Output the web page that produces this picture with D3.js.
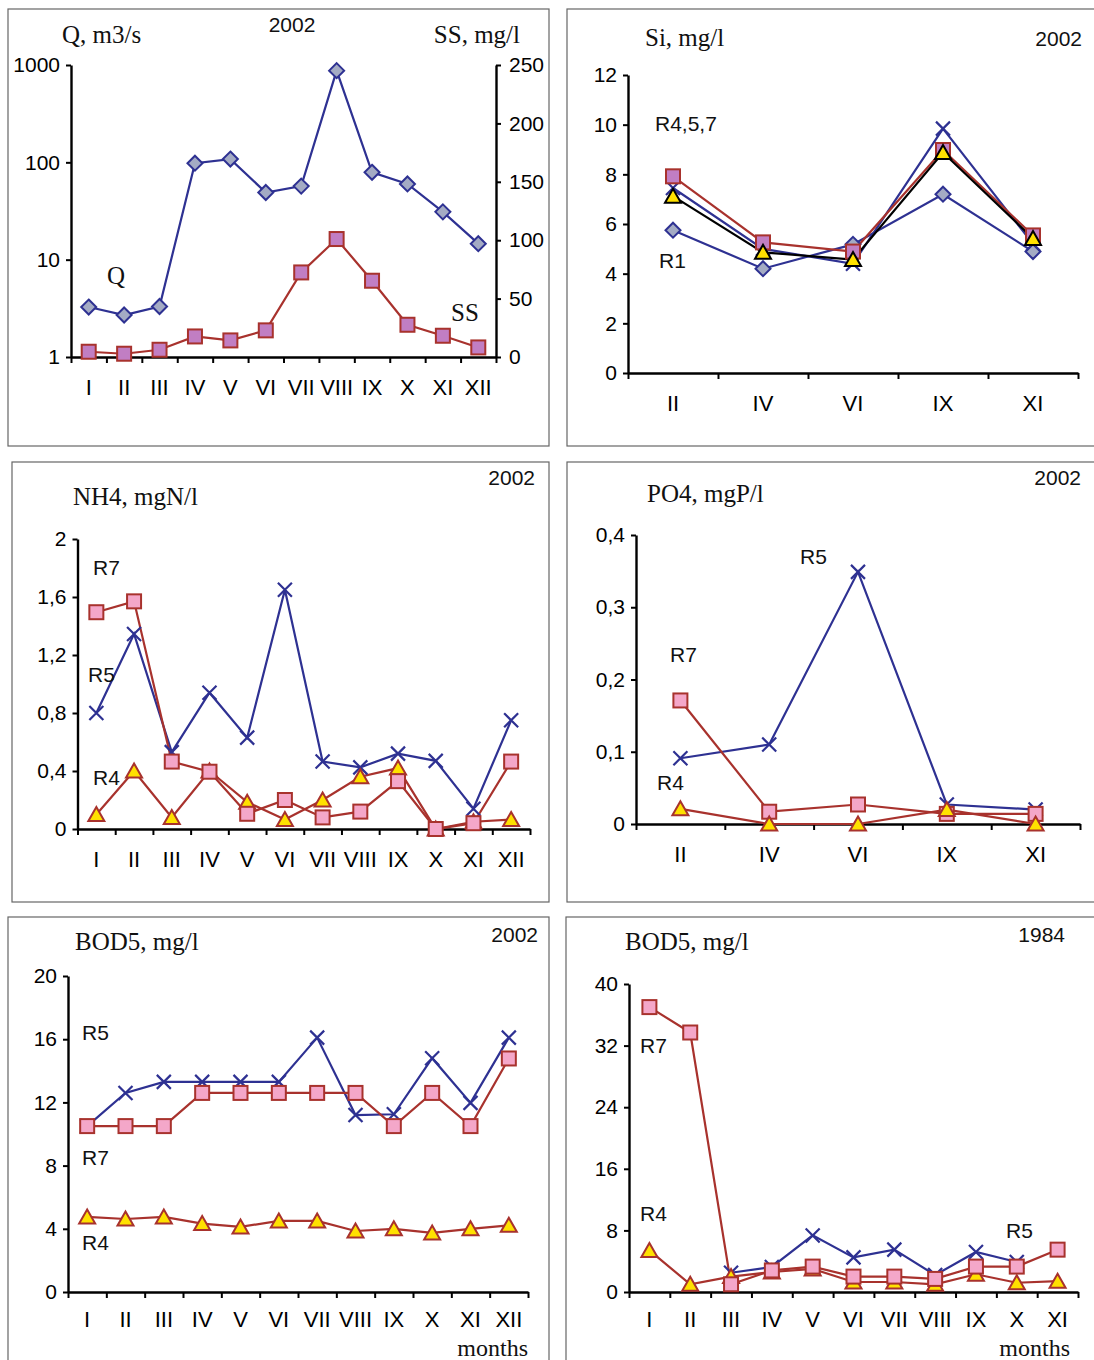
<!DOCTYPE html>
<html>
<head>
<meta charset="utf-8">
<script src="https://cdn.jsdelivr.net/npm/d3@7"></script>
<style>
body { margin: 0; background: #fff; }
text.sans { font-family: "Liberation Sans", Arial, sans-serif; }
text.serif { font-family: "Liberation Serif", "Times New Roman", serif; }
</style>
</head>
<body>
<div id="chart"></div>
<script>
// categories
var monthsAll = ["I", "II", "III", "IV", "V", "VI", "VII", "VIII", "IX", "X", "XI", "XII"];
var monthsSi = ["II", "IV", "VI", "IX", "XI"];
var months1984 = ["I", "II", "III", "IV", "V", "VI", "VII", "VIII", "IX", "X", "XI"];

// Q (log) and SS, 2002
var qFlow = [3.26, 2.7, 3.3, 98, 108, 49, 57, 875, 79, 60, 31, 14.6];
var ssConc = [4.5, 2.8, 6.2, 17.6, 14.2, 22.8, 72.4, 101, 65.3, 27.6, 18.2, 8.2];

// Si, 2002
var siR1 = [5.75, 4.2, 5.18, 7.2, 4.89];
var siR4 = [7.12, 4.86, 4.57, 8.88, 5.42];
var siR5 = [7.45, 5.0, 4.4, 9.84, 5.2];
var siR7 = [7.92, 5.26, 4.89, 8.98, 5.54];

// NH4, 2002
var nh4R4 = [0.1, 0.4, 0.08, 0.4, 0.185, 0.065, 0.2, 0.36, 0.42, 0, 0.05, 0.065];
var nh4R5 = [0.8, 1.345, 0.53, 0.94, 0.63, 1.65, 0.465, 0.425, 0.52, 0.47, 0.14, 0.75];
var nh4R7 = [1.495, 1.57, 0.465, 0.395, 0.105, 0.2, 0.08, 0.12, 0.33, 0, 0.04, 0.465];

// PO4, 2002
var po4R4 = [0.021, 0, 0, 0.02, 0];
var po4R5 = [0.091, 0.11, 0.349, 0.027, 0.02];
var po4R7 = [0.171, 0.017, 0.027, 0.014, 0.014];

// BOD5, 2002
var bod02R4 = [4.75, 4.62, 4.75, 4.33, 4.12, 4.5, 4.5, 3.86, 4.0, 3.74, 4.0, 4.22];
var bod02R5 = [10.5, 12.6, 13.3, 13.3, 13.3, 13.3, 16.1, 11.2, 11.25, 14.8, 11.97, 16.1];
var bod02R7 = [10.5, 10.5, 10.5, 12.6, 12.6, 12.6, 12.6, 12.6, 10.5, 12.6, 10.5, 14.78];

// BOD5, 1984
var bod84R4 = [5.4, 1.0, 2.0, 2.6, 3.0, 1.3, 1.3, 1.0, 2.3, 1.2, 1.4];
var bod84R5 = [null, null, 2.5, 3.25, 7.35, 4.5, 5.5, 2.2, 5.2, 3.9, null];
var bod84R7 = [37.0, 33.7, 1.0, 2.8, 3.3, 2.0, 2.0, 1.7, 3.3, 3.3, 5.5];

// tick values
var qTicks = [1, 10, 100, 1000];
var ssTicks = [0, 50, 100, 150, 200, 250];
var siTicks = [0, 2, 4, 6, 8, 10, 12];
var nh4Ticks = [0, 0.4, 0.8, 1.2, 1.6, 2];
var po4Ticks = [0, 0.1, 0.2, 0.3, 0.4];
var bod02Ticks = [0, 4, 8, 12, 16, 20];
var bod84Ticks = [0, 8, 16, 24, 32, 40];

var NAVY = "#2e3192", RED = "#a8322d", PINK = "#f4a7c9", PURPLE = "#c17ec3",
	YELLOW = "#ffe100", GREY = "#a4abc4";

var svg = d3.select("#chart").append("svg")
	.attr("width", 1094)
	.attr("height", 1360);

svg.append("rect").attr("width", 1094).attr("height", 1360).attr("fill", "#fff");

var comma = function(d) { return String(+d.toFixed(2)).replace(".", ","); };

function drawMarker(g, type, cx, cy, stroke) {
	var h = 7;
	if (type === "square" || type === "squareP") {
		g.append("rect").attr("x", cx - h).attr("y", cy - h).attr("width", 2 * h).attr("height", 2 * h)
			.attr("fill", type === "square" ? PINK : PURPLE).attr("stroke", RED).attr("stroke-width", 2);
	} else if (type === "triangle") {
		g.append("path").attr("d", "M" + cx + "," + (cy - 7.5) + "L" + (cx + 8) + "," + (cy + 6.5) + "L" + (cx - 8) + "," + (cy + 6.5) + "Z")
			.attr("fill", YELLOW).attr("stroke", stroke).attr("stroke-width", 2);
	} else if (type === "diamond") {
		g.append("path").attr("d", "M" + cx + "," + (cy - 7.5) + "L" + (cx + 7.5) + "," + cy + "L" + cx + "," + (cy + 7.5) + "L" + (cx - 7.5) + "," + cy + "Z")
			.attr("fill", GREY).attr("stroke", NAVY).attr("stroke-width", 2);
	} else if (type === "x") {
		g.append("path").attr("d", "M" + (cx - h) + "," + (cy - h) + "L" + (cx + h) + "," + (cy + h) + "M" + (cx - h) + "," + (cy + h) + "L" + (cx + h) + "," + (cy - h))
			.attr("fill", "none").attr("stroke", NAVY).attr("stroke-width", 2.2);
	}
}

function styleAxis(g) {
	g.select(".domain").attr("stroke", "#000").attr("stroke-width", 2.4);
	g.selectAll(".tick line").attr("stroke", "#000").attr("stroke-width", 2);
	g.selectAll(".tick text").attr("class", "sans").attr("fill", "#000").style("font-size", "21px");
}

function panel(p) {
	var g = svg.append("g");
	g.append("rect")
		.attr("x", p.box[0]).attr("y", p.box[1])
		.attr("width", p.box[2]).attr("height", p.box[3])
		.attr("fill", "none").attr("stroke", "#666").attr("stroke-width", 1.2);

	var x = d3.scaleBand().domain(p.cats).range([p.left, p.right]),
		xb = d3.scaleLinear().domain([0, p.cats.length]).range([p.left, p.right]),
		y = p.y;

	// boundary ticks
	g.append("g")
		.attr("transform", "translate(0," + p.bottom + ")")
		.call(d3.axisBottom(xb).tickValues(d3.range(p.cats.length + 1)).tickFormat("").tickSize(6).tickSizeOuter(0))
		.call(styleAxis);
	// month labels
	g.append("g")
		.attr("transform", "translate(0," + p.bottom + ")")
		.call(d3.axisBottom(x).tickSize(0).tickPadding(p.labelPad || 22))
		.call(styleAxis)
		.call(function(a) { a.select(".domain").remove(); a.selectAll(".tick text").style("font-size", "22px"); });

	g.append("g")
		.attr("transform", "translate(" + p.left + ",0)")
		.call(d3.axisLeft(y).tickValues(p.ticks).tickFormat(p.fmt || comma).tickSize(5).tickSizeOuter(0).tickPadding(6))
		.call(styleAxis);

	var cx = function(i) { return x(p.cats[i]) + x.bandwidth() / 2; };

	p.series.forEach(function(s) {
		var ys = s.scale || y;
		var line = d3.line()
			.defined(function(d) { return d != null; })
			.x(function(d, i) { return cx(i); })
			.y(function(d) { return ys(d); });
		g.append("path")
			.datum(s.values)
			.attr("fill", "none")
			.attr("stroke", s.color)
			.attr("stroke-width", 2.2)
			.attr("d", line);
	});
	p.series.forEach(function(s) {
		var ys = s.scale || y;
		s.values.forEach(function(d, i) {
			if (d == null) { return; }
			drawMarker(g, s.marker, cx(i), ys(d), s.mstroke || s.color);
		});
	});

	(p.texts || []).forEach(function(t) {
		g.append("text")
			.attr("class", t.serif ? "serif" : "sans")
			.attr("x", t.x).attr("y", t.y)
			.attr("text-anchor", t.anchor || "start")
			.style("font-size", (t.size || 21) + "px")
			.attr("fill", "#111")
			.text(t.text);
	});
	return g;
}

// Panel 1: Q and SS
var yQ = d3.scaleLog().domain([1, 1000]).range([357, 65]),
	ySS = d3.scaleLinear().domain([0, 250]).range([357, 65]);
var p1 = panel({
	box: [8, 9, 541, 437], cats: monthsAll, left: 71, right: 496, bottom: 357,
	y: yQ, ticks: qTicks, fmt: d3.format("d"),
	series: [
		{ values: qFlow, color: NAVY, marker: "diamond" },
		{ values: ssConc, color: RED, marker: "squareP", scale: ySS }
	],
	texts: [
		{ text: "Q, m3/s", x: 62, y: 43, serif: true, size: 25 },
		{ text: "2002", x: 292, y: 32, anchor: "middle" },
		{ text: "SS, mg/l", x: 520, y: 43, anchor: "end", serif: true, size: 25 },
		{ text: "Q", x: 107, y: 284, serif: true, size: 25 },
		{ text: "SS", x: 451, y: 321, serif: true, size: 25 }
	]
});
p1.append("g")
	.attr("transform", "translate(496,0)")
	.call(d3.axisRight(ySS).tickValues(ssTicks).tickSize(5).tickSizeOuter(0).tickPadding(8))
	.call(styleAxis);

// Panel 2: Si
var ySi = d3.scaleLinear().domain([0, 12]).range([373, 75]);
panel({
	box: [567, 9, 540, 437], cats: monthsSi, left: 628, right: 1078, bottom: 373,
	y: ySi, ticks: siTicks,
	series: [
		{ values: siR1, color: NAVY, marker: "diamond" },
		{ values: siR5, color: NAVY, marker: "x" },
		{ values: siR7, color: RED, marker: "squareP" },
		{ values: siR4, color: "#000", marker: "triangle" }
	],
	texts: [
		{ text: "Si, mg/l", x: 645, y: 46, serif: true, size: 25 },
		{ text: "2002", x: 1082, y: 46, anchor: "end" },
		{ text: "R4,5,7", x: 655, y: 131 },
		{ text: "R1", x: 659, y: 268 }
	]
});

// Panel 3: NH4
var yNH4 = d3.scaleLinear().domain([0, 2]).range([829, 539]);
panel({
	box: [12, 462, 537, 440], cats: monthsAll, left: 77.5, right: 530, bottom: 829,
	y: yNH4, ticks: nh4Ticks,
	series: [
		{ values: nh4R5, color: NAVY, marker: "x" },
		{ values: nh4R4, color: RED, marker: "triangle" },
		{ values: nh4R7, color: RED, marker: "square" }
	],
	texts: [
		{ text: "NH4, mgN/l", x: 73, y: 505, serif: true, size: 25 },
		{ text: "2002", x: 535, y: 485, anchor: "end" },
		{ text: "R7", x: 93, y: 575 },
		{ text: "R5", x: 88, y: 682 },
		{ text: "R4", x: 93, y: 785 }
	]
});

// Panel 4: PO4
var yPO4 = d3.scaleLinear().domain([0, 0.4]).range([824, 535]);
panel({
	box: [567, 462, 540, 440], cats: monthsSi, left: 636, right: 1080, bottom: 824,
	y: yPO4, ticks: po4Ticks,
	series: [
		{ values: po4R5, color: NAVY, marker: "x" },
		{ values: po4R7, color: RED, marker: "square" },
		{ values: po4R4, color: RED, marker: "triangle" }
	],
	texts: [
		{ text: "PO4, mgP/l", x: 647, y: 502, serif: true, size: 25 },
		{ text: "2002", x: 1081, y: 485, anchor: "end" },
		{ text: "R5", x: 800, y: 564 },
		{ text: "R7", x: 670, y: 662 },
		{ text: "R4", x: 657, y: 790 }
	]
});

// Panel 5: BOD5 2002
var yB02 = d3.scaleLinear().domain([0, 20]).range([1292, 976]);
panel({
	box: [8, 917, 541, 460], cats: monthsAll, left: 68, right: 528, bottom: 1292, labelPad: 19,
	y: yB02, ticks: bod02Ticks,
	series: [
		{ values: bod02R5, color: NAVY, marker: "x" },
		{ values: bod02R7, color: RED, marker: "square" },
		{ values: bod02R4, color: RED, marker: "triangle" }
	],
	texts: [
		{ text: "BOD5, mg/l", x: 75, y: 950, serif: true, size: 25 },
		{ text: "2002", x: 538, y: 942, anchor: "end" },
		{ text: "R5", x: 82, y: 1040 },
		{ text: "R7", x: 82, y: 1165 },
		{ text: "R4", x: 82, y: 1250 },
		{ text: "months", x: 528, y: 1356, anchor: "end", serif: true, size: 24 }
	]
});

// Panel 6: BOD5 1984
var yB84 = d3.scaleLinear().domain([0, 40]).range([1292, 984]);
panel({
	box: [566, 917, 541, 460], cats: months1984, left: 629, right: 1078, bottom: 1292, labelPad: 19,
	y: yB84, ticks: bod84Ticks,
	series: [
		{ values: bod84R5, color: NAVY, marker: "x" },
		{ values: bod84R4, color: RED, marker: "triangle" },
		{ values: bod84R7, color: RED, marker: "square" }
	],
	texts: [
		{ text: "BOD5, mg/l", x: 625, y: 950, serif: true, size: 25 },
		{ text: "1984", x: 1065, y: 942, anchor: "end" },
		{ text: "R7", x: 640, y: 1053 },
		{ text: "R4", x: 640, y: 1221 },
		{ text: "R5", x: 1006, y: 1238 },
		{ text: "months", x: 1070, y: 1356, anchor: "end", serif: true, size: 24 }
	]
});
</script>
</body>
</html>
